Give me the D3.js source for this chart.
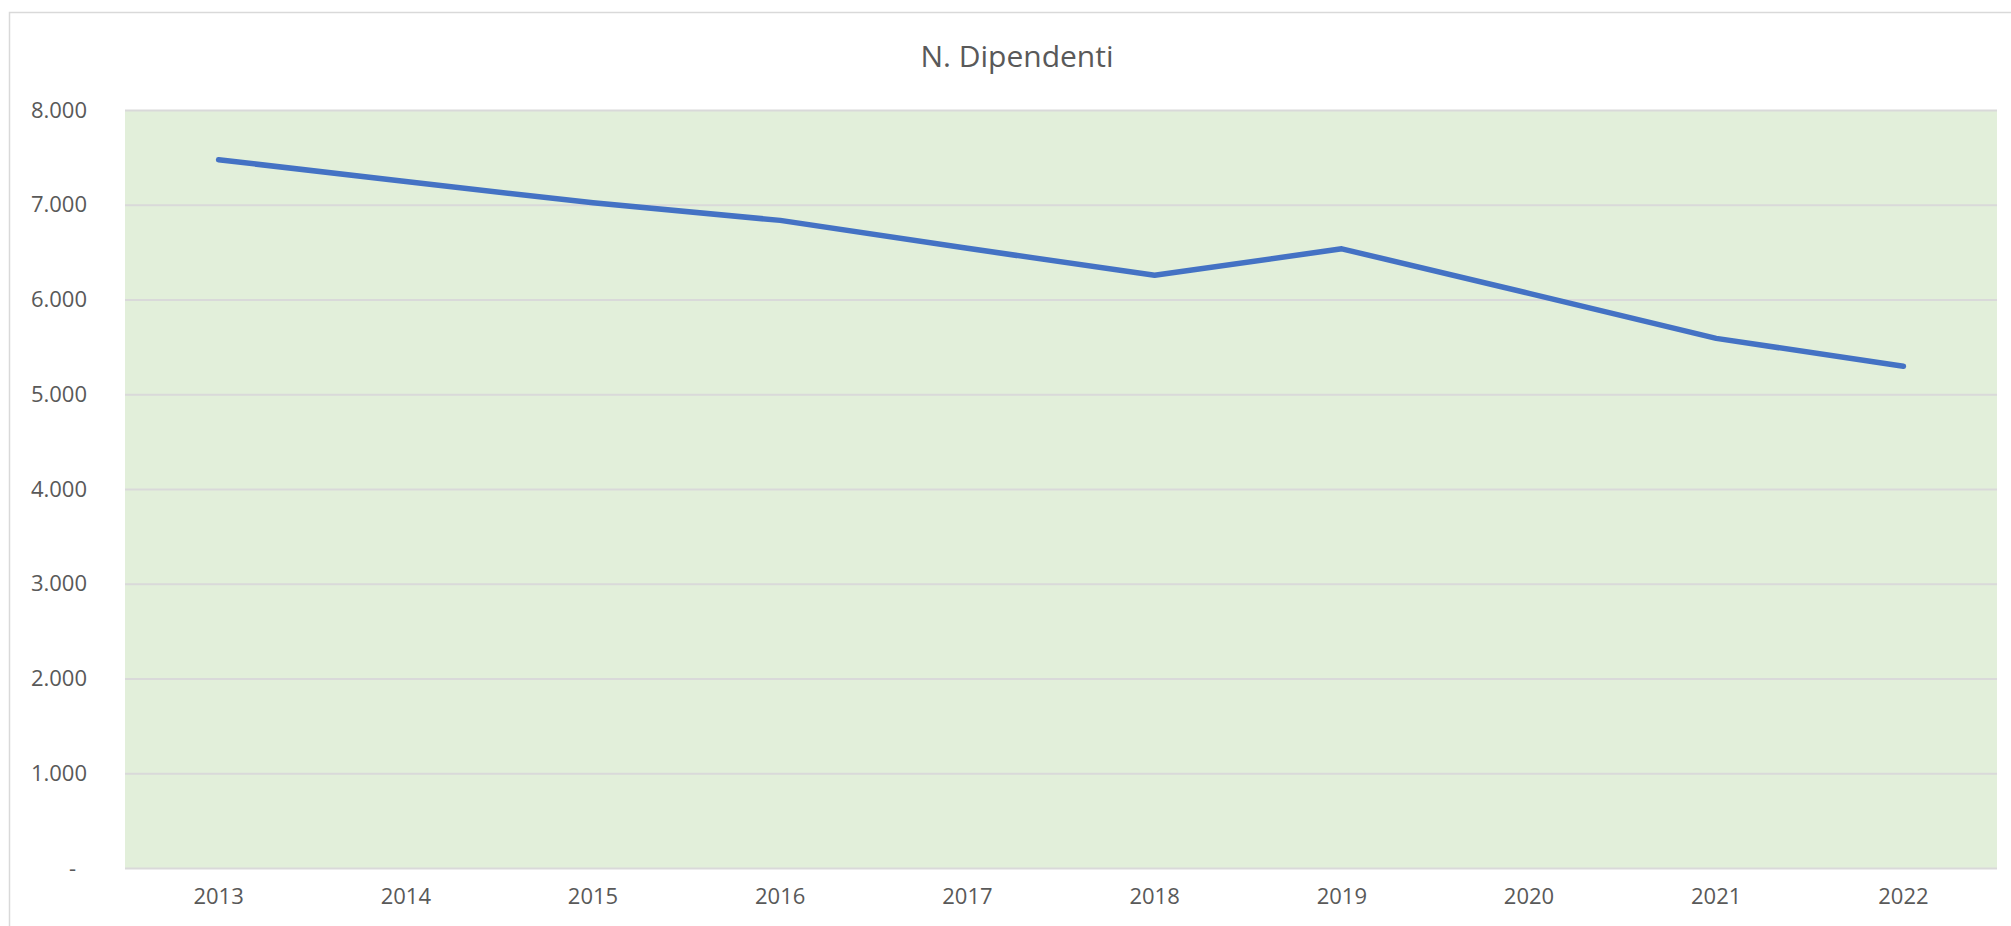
<!DOCTYPE html>
<html>
<head>
<meta charset="utf-8">
<script src="https://cdn.jsdelivr.net/npm/d3@7"></script>
<style>
	body { margin: 0; background: #fff; }
	svg text { font-family: 'Open Sans', sans-serif; fill: #595959; }
	.axis path, .axis line { display: none; }
	.grid line { stroke: #d9d9d9; stroke-width: 2px; }
	.grid path { display: none; }
</style>
</head>
<body>
<div id="chart"></div>
<script>
// data
const years = ['2013', '2014', '2015', '2016', '2017', '2018', '2019', '2020', '2021', '2022'];
const employees = [7475, 7245, 7020, 6835, 6540, 6255, 6535, 6065, 5590, 5295];
const yTickValues = [0, 1000, 2000, 3000, 4000, 5000, 6000, 7000, 8000];
const chartTitle = 'N. Dipendenti';

class LineChart {
	constructor(_config, _data) {
		this.config = {
			parentElement: _config.parentElement,
			containerWidth: _config.containerWidth || 2011,
			containerHeight: _config.containerHeight || 926,
			margin: _config.margin || { top: 110, right: 14, bottom: 58, left: 125 },
			lineColor: _config.lineColor || '#4472c4',
			plotColor: _config.plotColor || '#e2efda',
			title: _config.title,
		}

		this.data = _data;
		this.initVis();
	}

	initVis() {
		const vis = this;

		vis.width = vis.config.containerWidth - vis.config.margin.left - vis.config.margin.right;
		vis.height = vis.config.containerHeight - vis.config.margin.top - vis.config.margin.bottom;

		vis.svg = d3.select(vis.config.parentElement).append('svg')
			.attr('width', vis.config.containerWidth)
			.attr('height', vis.config.containerHeight);

		// chart frame
		vis.svg.append('rect')
			.attr('x', 9.5).attr('y', 12.5)
			.attr('width', 2010).attr('height', 930)
			.attr('fill', '#fff')
			.attr('stroke', '#d9d9d9')
			.attr('stroke-width', 1.5);

		vis.svg.append('text')
			.attr('x', 1017)
			.attr('y', 67)
			.attr('text-anchor', 'middle')
			.style('font-size', '30px')
			.text(vis.config.title);

		vis.chart = vis.svg.append('g')
			.attr('transform', `translate(${vis.config.margin.left}, ${vis.config.margin.top})`);

		vis.chart.append('rect')
			.attr('width', vis.width)
			.attr('height', vis.height)
			.attr('fill', vis.config.plotColor);

		// scales
		vis.xScale = d3.scaleBand().domain(years).range([0, vis.width]);
		vis.yScale = d3.scaleLinear().domain([0, 8000]).range([vis.height, 0]);

		vis.gridG = vis.chart.append('g').attr('class', 'grid');
		vis.gridG.call(d3.axisLeft(vis.yScale).tickValues(yTickValues).tickSize(-vis.width).tickFormat(''));

		// y axis
		vis.yAxisG = vis.chart.append('g').attr('class', 'axis y-axis');
		vis.yAxisG.call(d3.axisLeft(vis.yScale)
			.tickValues(yTickValues)
			.tickSize(0)
			.tickPadding(38)
			.tickFormat(d => d === 0 ? '-' : d3.format(',')(d).replace(/,/g, '.')));
		vis.yAxisG.selectAll('text')
			.style('font-size', '22px')
			.attr('dx', d => d === 0 ? -11 : 0);

		// x axis
		vis.xAxisG = vis.chart.append('g').attr('class', 'axis x-axis')
			.attr('transform', `translate(0, ${vis.height})`);
		vis.xAxisG.call(d3.axisBottom(vis.xScale).tickSize(0).tickPadding(20));
		vis.xAxisG.selectAll('text').style('font-size', '22px');

		vis.renderVis();
	}

	renderVis() {
		const vis = this;

		const line = d3.line()
			.x((d, i) => vis.xScale(years[i]) + vis.xScale.bandwidth() / 2)
			.y(d => vis.yScale(d));

		vis.chart.append('path')
			.datum(vis.data)
			.attr('fill', 'none')
			.attr('stroke', vis.config.lineColor)
			.attr('stroke-width', 5.5)
			.attr('stroke-linecap', 'round')
			.attr('stroke-linejoin', 'round')
			.attr('d', line);
	}
}

new LineChart({ parentElement: '#chart', title: chartTitle }, employees);
</script>
</body>
</html>
